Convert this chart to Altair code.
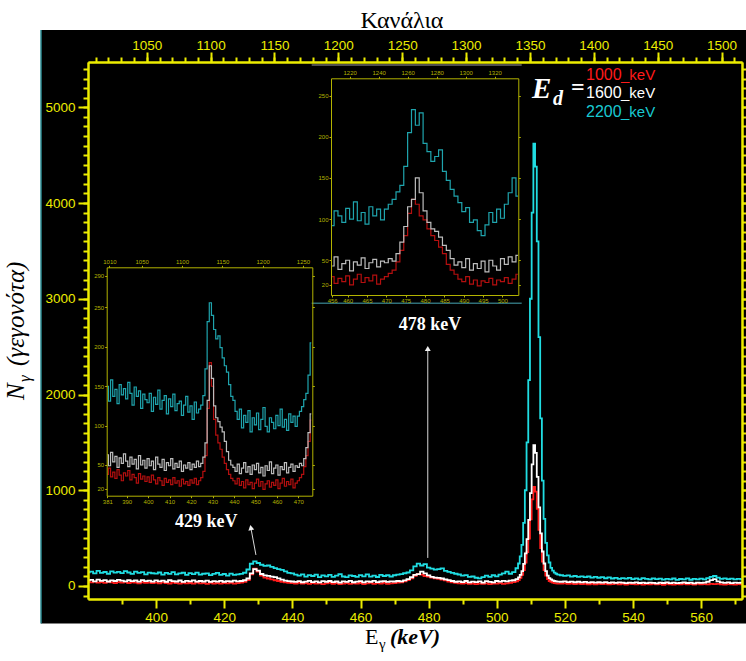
import altair as alt
import pandas as pd

# ---------------- data ----------------
energy_keV = (list(range(380, 506))
              + [506.0, 506.5, 507.0, 507.5, 508.0, 508.5, 509.0, 509.5, 510.0, 510.5,
                 511.0, 511.5, 512.0, 512.5, 513.0, 513.5, 514.0, 514.5, 515.0, 515.5,
                 516.0, 516.5, 517.0, 517.5, 518.0]
              + list(range(519, 573)))

counts_2200 = [
    142, 150, 131, 158, 137, 146, 128, 152, 139, 147,
    134, 155, 141, 126, 149, 137, 144, 122, 140, 133,
    129, 141, 118, 136, 127, 145, 121, 132, 138, 115,
    134, 124, 140, 119, 128, 131, 113, 126, 137, 117,
    125, 108, 130, 116, 121, 126, 138, 172, 232, 256,
    240, 222, 210, 214, 199, 186, 176, 168, 152, 137,
    132, 118, 108, 121, 97, 113, 104, 119, 92, 110,
    101, 116, 95, 108, 123, 99, 92, 110, 104, 96,
    113, 100, 121, 98, 108, 94, 115, 104, 112, 99,
    112, 118, 124, 133, 141, 164, 205, 233, 214, 229,
    192, 182, 170, 176, 184, 158, 147, 136, 128, 120,
    109, 114, 96, 99, 86, 80, 93, 108, 96, 112,
    101, 118, 132, 150, 128, 145,
    185, 235, 310, 430, 660, 1000, 1500, 2150, 3000, 3900,
    4620, 4380, 3600, 2600, 1750, 1100, 700, 450, 320, 245,
    190, 160, 140, 128, 118,
    112, 105, 110, 98, 104, 96, 101, 92, 99, 88, 95, 86,
    92, 81, 89, 78, 85, 74, 82, 76, 84, 72,
    79, 70, 83, 74, 68, 80, 71, 77, 66, 75,
    69, 78, 64, 73, 70, 79, 65, 74, 68, 76,
    70, 82, 96, 104, 88, 75, 80, 71, 77, 69, 74, 70,
]

counts_1600 = [
    58, 63, 49, 66, 54, 61, 47, 59, 52, 64,
    55, 48, 60, 51, 57, 45, 62, 50, 56, 46,
    58, 49, 55, 44, 60, 51, 47, 57, 43, 53,
    49, 58, 45, 52, 47, 55, 42, 50, 46, 53,
    44, 51, 47, 55, 48, 52, 60, 78, 132, 176,
    160, 125, 110, 105, 98, 92, 80, 67, 56, 50,
    47, 42, 51, 39, 46, 53, 41, 48, 38, 50,
    44, 52, 40, 47, 36, 49, 43, 54, 39, 46,
    50, 37, 48, 44, 53, 40, 47, 51, 42, 49,
    47, 52, 49, 58, 72, 91, 115, 124, 150, 132,
    110, 96, 88, 85, 78, 68, 62, 52, 44, 48,
    41, 52, 38, 46, 40, 49, 36, 50, 43, 38,
    52, 45, 54, 48, 56, 60,
    72, 90, 115, 155, 230, 340, 490, 690, 970, 1270,
    1470, 1390, 1140, 820, 550, 360, 235, 155, 108, 82,
    68, 58, 52, 48, 45,
    44, 48, 41, 46, 39, 44, 37, 42, 36, 41, 34, 39,
    35, 40, 33, 38, 32, 37, 34, 30, 36, 32,
    38, 31, 35, 29, 36, 33, 28, 34, 31, 37,
    30, 35, 29, 33, 38, 31, 34, 28, 35, 32,
    36, 44, 62, 71, 48, 37, 33, 38, 30, 35, 32, 34,
]

counts_1000 = [
    42, 38, 46, 35, 41, 33, 44, 37, 30, 40,
    36, 43, 31, 38, 34, 27, 39, 32, 36, 29,
    35, 28, 37, 31, 26, 34, 30, 24, 33, 28,
    31, 25, 34, 27, 30, 23, 32, 26, 29, 24,
    31, 27, 33, 25, 30, 34, 42, 62, 122, 180,
    150, 108, 88, 78, 70, 60, 52, 44, 38, 33,
    30, 26, 33, 24, 29, 21, 31, 25, 28, 20,
    27, 32, 23, 29, 19, 26, 30, 22, 28, 24,
    31, 20, 27, 33, 23, 29, 25, 32, 21, 27,
    30, 34, 38, 48, 62, 80, 107, 124, 118, 104,
    99, 88, 80, 74, 66, 58, 45, 38, 33, 27,
    24, 30, 21, 26, 19, 25, 23, 28, 20, 26,
    24, 29, 22, 27, 33, 40,
    48, 62, 85, 115, 165, 245, 355, 495, 695, 905,
    1035, 985, 805, 585, 395, 255, 165, 108, 72, 52,
    42, 35, 30, 28, 26,
    25, 28, 22, 26, 20, 24, 19, 23, 18, 22, 17, 21,
    19, 23, 16, 20, 24, 18, 21, 15, 22, 19,
    17, 21, 14, 20, 18, 23, 16, 19, 13, 21,
    18, 15, 20, 17, 22, 16, 19, 14, 21, 18,
    20, 17, 23, 19, 21, 16, 14, 20, 18, 15, 19, 17,
]

series_keys = ["c1000", "c1600", "c2200"]
legend_numbers = ["1000", "1600", "2200"]
main_colors = ["#ff1a1a", "#ffffff", "#20dde2"]
legend_colors = ["#ff1a1a", "#ffffff", "#19c9d2"]
inset_colors = ["#b40f0f", "#bdbdbd", "#1fa4ad"]

kev_major = [400, 420, 440, 460, 480, 500, 520, 540, 560]
kev_minor = [390, 410, 430, 450, 470, 490, 510, 530, 550, 570]
chan_major = [1050, 1100, 1150, 1200, 1250, 1300, 1350, 1400, 1450, 1500]
chan_minor = list(range(1010, 1516, 10))
count_major = [0, 1000, 2000, 3000, 4000, 5000]
count_minor = list(range(-100, 5401, 100))

inset1_kev_ticks = [381, 390, 400, 410, 420, 430, 440, 450, 460, 470]
inset1_chan_ticks = [1010, 1050, 1100, 1150, 1200, 1250]
inset1_count_ticks = [20, 50, 100, 150, 200, 250, 290]
inset2_kev_ticks = [456, 460, 465, 470, 475, 480, 485, 490, 495, 500]
inset2_chan_ticks = [1220, 1240, 1260, 1280, 1300, 1320]
inset2_count_ticks = [20, 50, 100, 150, 200, 250]

peak_label_text = ["429 keV", "478 keV"]
peak_label_E = [414.7, 480.4]
peak_label_N = [669, 2727]
arrow_E_start = [429.3, 479.75]
arrow_N_start = [324, 293]
arrow_E_end = [427.8, 479.75]
arrow_N_end = [610, 2480]
arrow_angle = [349, 0]

df = pd.DataFrame({"E": energy_keV, "c1000": counts_1000,
                   "c1600": counts_1600, "c2200": counts_2200})
peaks = pd.DataFrame({"E": peak_label_E, "N": peak_label_N, "label": peak_label_text})
arrows = pd.DataFrame({"E0": arrow_E_start, "N0": arrow_N_start,
                       "E1": arrow_E_end, "N1": arrow_N_end, "ang": arrow_angle})
one = pd.DataFrame({"a": [0]})

# ---------------- layout / style ----------------
W, H = 654, 537
YEL = "#ecec00"
OLIVE = "#b3b300"
AXFONT = "Liberation Sans"
SERIF = "Liberation Serif"

KEV = [380.0, 572.0]
CH = [1004.0, 1516.0]
CNT = [-136.0, 5473.0]

I1_KEV, I1_CH, I1_CNT = [380.7, 476.5], [1006.6, 1261.5], [11.0, 301.0]
I1_X, I1_Y = [18.7, 224.3], [433.7, 205.3]
I2_KEV, I2_CH, I2_CNT = [455.7, 504.1], [1207.1, 1336.3], [7.8, 271.0]
I2_X, I2_Y = [243.0, 430.3], [233.0, 16.3]


def lin(domain, rng=None):
    if rng is None:
        return alt.Scale(domain=domain, nice=False, zero=False)
    return alt.Scale(domain=domain, range=rng, nice=False, zero=False)


def axis(orient, values, size, labels=True, offset=0, color=YEL, width=2.0,
         font=13.5, pad=2):
    return alt.Axis(orient=orient, values=values, tickSize=size, labels=labels,
                    title=None, grid=False, domain=True, ticks=True,
                    domainColor=color, domainWidth=width, tickColor=color,
                    tickWidth=width, labelColor=color, labelFont=AXFONT,
                    labelFontSize=font, labelPadding=pad, offset=offset,
                    labelOverlap=False, labelFlush=False, format="d", zindex=2)


def text(t, x, y, size, color="black", font=SERIF, weight="normal",
         style="normal", align="left", baseline="alphabetic", angle=0):
    return alt.Chart(one).mark_text(
        text=t, fontSize=size, color=color, font=font, fontWeight=weight,
        fontStyle=style, align=align, baseline=baseline, angle=angle
    ).encode(x=alt.value(x), y=alt.value(y))


def ghost(xs, ys, xaxis, yaxis):
    return alt.Chart(one).mark_point(opacity=0).encode(
        x=alt.X("a:Q", scale=xs, axis=xaxis),
        y=alt.Y("a:Q", scale=ys, axis=yaxis))


def spectrum(key, colour, xs, ys, xaxis, yaxis, lo, hi, sw):
    return alt.Chart(df).transform_filter(
        f"datum.E >= {lo} && datum.E <= {hi}"
    ).mark_line(interpolate="step", color=colour, strokeWidth=sw).encode(
        x=alt.X("E:Q", scale=xs, axis=xaxis),
        y=alt.Y(f"{key}:Q", scale=ys, axis=yaxis))


layers = []

# black panel
layers.append(alt.Chart(one).mark_rect(color="black").encode(
    x=alt.value(-47), x2=alt.value(658), y=alt.value(-32), y2=alt.value(561.5)))
layers.append(alt.Chart(one).mark_rule(color="#2a8a90", strokeWidth=1.5).encode(
    x=alt.value(-47), y=alt.value(-32), y2=alt.value(561.5)))

# main spectra
for i, key in enumerate(series_keys):
    xa = axis("bottom", kev_major, 9, pad=2) if i == 0 else None
    ya = axis("left", count_major, 10, pad=3) if i == 0 else None
    layers.append(spectrum(key, main_colors[i], lin(KEV), lin(CNT), xa, ya,
                           380, 572, 1.8))

layers.append(ghost(lin(KEV), lin(CNT),
                    axis("bottom", kev_minor, 5, labels=False),
                    axis("left", count_minor, 5, labels=False)))
layers.append(ghost(lin(CH), lin(CNT),
                    axis("top", chan_major, 10, pad=0),
                    axis("right", count_major, 10, labels=False)))
layers.append(ghost(lin(CH), lin(CNT),
                    axis("top", chan_minor, 5, labels=False),
                    axis("right", count_minor, 5, labels=False)))

# inset 2 image edges
layers.append(alt.Chart(one).mark_rule(color="#6a6a6a", strokeWidth=1.5).encode(
    x=alt.value(223.7), x2=alt.value(433.7), y=alt.value(3)))
layers.append(alt.Chart(one).mark_rule(color="#2f6f78", strokeWidth=1.5).encode(
    x=alt.value(223.7), x2=alt.value(433.7), y=alt.value(241.3)))

# inset 1 (429 keV)
for i, key in enumerate(series_keys):
    xa = axis("bottom", inset1_kev_ticks, 2, offset=-103.3, color=OLIVE,
              width=1, font=6, pad=1) if i == 0 else None
    ya = axis("left", inset1_count_ticks, 2, offset=-18.7, color=OLIVE,
              width=1, font=6, pad=1) if i == 0 else None
    layers.append(spectrum(key, inset_colors[i], lin(I1_KEV, I1_X),
                           lin(I1_CNT, I1_Y), xa, ya, 381, 476.5, 1.2))
layers.append(ghost(lin(I1_CH, I1_X), lin(I1_CNT, I1_Y),
                    axis("top", inset1_chan_ticks, 2, offset=-205.3, color=OLIVE,
                         width=1, font=6, pad=1),
                    axis("right", inset1_count_ticks, 2, labels=False,
                         offset=-429.7, color=OLIVE, width=1)))

# inset 2 (478 keV)
for i, key in enumerate(series_keys):
    xa = axis("bottom", inset2_kev_ticks, 2, offset=-304, color=OLIVE,
              width=1, font=6, pad=0) if i == 0 else None
    ya = axis("left", inset2_count_ticks, 2, offset=-243, color=OLIVE,
              width=1, font=6, pad=1) if i == 0 else None
    layers.append(spectrum(key, inset_colors[i], lin(I2_KEV, I2_X),
                           lin(I2_CNT, I2_Y), xa, ya, 456, 504.1, 1.2))
layers.append(ghost(lin(I2_CH, I2_X), lin(I2_CNT, I2_Y),
                    axis("top", inset2_chan_ticks, 2, offset=-16.3, color=OLIVE,
                         width=1, font=6, pad=1),
                    axis("right", inset2_count_ticks, 2, labels=False,
                         offset=-223.7, color=OLIVE, width=1)))

# arrows and peak labels
layers.append(alt.Chart(arrows).mark_rule(color="#d8d8d8", strokeWidth=1).encode(
    x=alt.X("E0:Q", scale=lin(KEV), axis=None),
    x2="E1:Q",
    y=alt.Y("N0:Q", scale=lin(CNT), axis=None),
    y2="N1:Q"))
layers.append(alt.Chart(arrows).mark_point(
    shape="triangle-up", filled=True, size=35, color="#f0f0f0", opacity=1
).encode(
    x=alt.X("E1:Q", scale=lin(KEV), axis=None),
    y=alt.Y("N1:Q", scale=lin(CNT), axis=None),
    angle=alt.Angle("ang:Q", scale=None)))
layers.append(alt.Chart(peaks).mark_text(
    font=SERIF, fontSize=18, fontWeight="bold", color="white",
    align="center", baseline="middle"
).encode(
    x=alt.X("E:Q", scale=lin(KEV), axis=None),
    y=alt.Y("N:Q", scale=lin(CNT), axis=None),
    text="label:N"))

# legend  E_d = ...
layers.append(text("E", 444, 36, 29, color="white", weight="bold", style="italic"))
layers.append(text("d", 465, 43, 20, color="white", weight="bold", style="italic"))
layers.append(text("=", 483, 33, 24, color="white", weight="bold"))
for i, num in enumerate(legend_numbers):
    yb = 17.5 + 18.5 * i
    layers.append(text(num, 498, yb, 16, color=legend_colors[i], font=AXFONT))
    layers.append(text("_keV", 533, yb, 15, color=legend_colors[i], font=AXFONT))

# outer titles
layers.append(text("Κανάλια", 314, -41, 24, align="center", baseline="middle"))
layers.append(text("E", 277, 582, 22))
layers.append(text("γ", 291, 587, 15))
layers.append(text("(keV)", 302, 582, 22, weight="bold", style="italic"))
layers.append(text("N", -64, 338, 25, style="italic", angle=270, baseline="alphabetic"))
layers.append(text("γ", -58, 320, 17, style="italic", angle=270, baseline="alphabetic"))
layers.append(text("(γεγονότα)", -64, 304, 25, style="italic", angle=270,
                   baseline="alphabetic"))

chart = alt.layer(*layers).resolve_scale(
    x="independent", y="independent"
).resolve_axis(
    x="independent", y="independent"
).properties(
    width=W, height=H,
    autosize=alt.AutoSizeParams(type="none"),
    padding={"left": 88, "top": 62, "right": 4, "bottom": 62},
    background="white",
).configure_view(stroke=None)

chart.save("out.html", embed_options={"renderer": "svg", "actions": False})
